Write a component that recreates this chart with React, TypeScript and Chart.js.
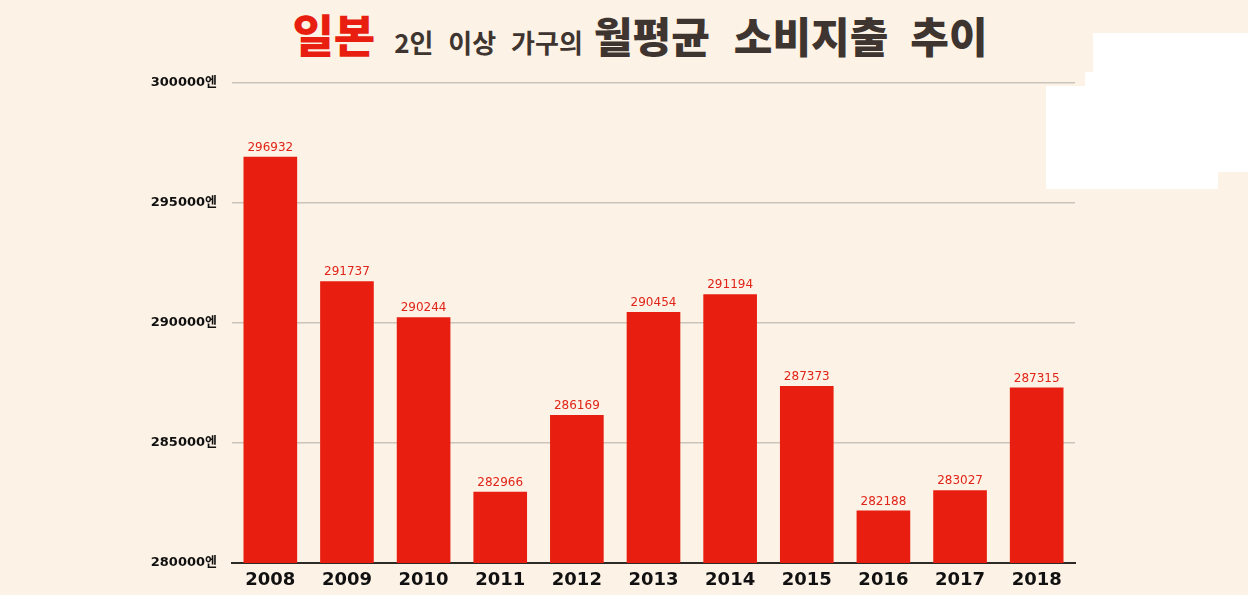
import { useEffect, useRef } from 'react'
import { Chart, registerables } from 'chart.js'

Chart.register(...registerables)

const years = ['2008', '2009', '2010', '2011', '2012', '2013', '2014', '2015', '2016', '2017', '2018']
const spending = [296932, 291737, 290244, 282966, 286169, 290454, 291194, 287373, 282188, 283027, 287315]
const yMin = 280000
const yMax = 300000
const yStep = 5000
const yUnit = '엔'

const BG = '#fdf2e6'
const RED = '#e81f10'
const DARK = '#3f3530'
const NUM_FONT = '"DejaVu Sans", "Noto Sans CJK KR", sans-serif'
const KR_FONT = '"Noto Sans CJK KR", sans-serif'

// value labels above each bar
const valueLabels = {
  id: 'valueLabels',
  afterDatasetsDraw(chart: Chart) {
    const { ctx } = chart
    const meta = chart.getDatasetMeta(0)
    ctx.save()
    ctx.fillStyle = '#e02418'
    ctx.font = `12px ${NUM_FONT}`
    ctx.textAlign = 'center'
    ctx.textBaseline = 'bottom'
    meta.data.forEach((bar: any, i: number) => {
      ctx.fillText(String(spending[i]), bar.x, bar.y - 3)
    })
    ctx.restore()
  },
}

const whiteBoxes = [
  { left: 1093, top: 33, width: 155, height: 40 },
  { left: 1085, top: 72, width: 163, height: 15 },
  { left: 1046, top: 86, width: 172, height: 103 },
  { left: 1218, top: 86, width: 30, height: 86 },
]

export default function App() {
  const canvasRef = useRef<HTMLCanvasElement>(null)
  const chartRef = useRef<Chart | null>(null)

  useEffect(() => {
    if (!canvasRef.current) return
    if (chartRef.current) chartRef.current.destroy()

    chartRef.current = new Chart(canvasRef.current, {
      type: 'bar',
      data: {
        labels: years,
        datasets: [{
          data: spending,
          backgroundColor: RED,
          categoryPercentage: 1,
          barPercentage: 0.7,
        }],
      },
      options: {
        animation: false,
        responsive: false,
        devicePixelRatio: 1,
        layout: { padding: { top: 83, right: 173, left: 0, bottom: 0 } },
        plugins: {
          legend: { display: false },
          tooltip: { enabled: false },
        },
        scales: {
          x: {
            grid: { display: false, drawTicks: false },
            border: { color: '#2e2a28', width: 2 },
            ticks: {
              color: '#111',
              font: { family: NUM_FONT, size: 18, weight: 'bold' },
              padding: 7,
            },
            afterFit: (scale: any) => { scale.height = 32 },
          },
          y: {
            min: yMin,
            max: yMax,
            grid: { color: '#c9c5bd', lineWidth: 1.5, drawTicks: false },
            border: { display: false },
            ticks: {
              stepSize: yStep,
              color: '#111',
              font: { family: NUM_FONT, size: 13, weight: 'bold' },
              padding: 15,
              callback: (v: any) => `${v}${yUnit}`,
            },
            afterFit: (scale: any) => { scale.width = 232 },
          },
        },
      },
      plugins: [valueLabels],
    })

    return () => {
      if (chartRef.current) {
        chartRef.current.destroy()
        chartRef.current = null
      }
    }
  }, [])

  return (
    <div style={{ position: 'fixed', left: 0, top: 0, width: 1248, height: 595, background: BG, overflow: 'hidden' }}>
      <div style={{ position: 'absolute', left: 0, top: 4, width: 1280, textAlign: 'center', fontFamily: KR_FONT, color: DARK, whiteSpace: 'nowrap', lineHeight: '60px' }}>
        <span style={{ color: RED, fontSize: 45, fontWeight: 900, marginRight: 19 }}>일본</span>
        <span style={{ fontSize: 26, fontWeight: 700, wordSpacing: 9, marginRight: 11 }}>2인 이상 가구의</span>
        <span style={{ fontSize: 42, fontWeight: 900, marginRight: 24 }}>월평균</span>
        <span style={{ fontSize: 42, fontWeight: 900, marginRight: 22 }}>소비지출</span>
        <span style={{ fontSize: 42, fontWeight: 900 }}>추이</span>
      </div>
      <canvas ref={canvasRef} width={1248} height={595} style={{ position: 'absolute', left: 0, top: 0 }} />
      {whiteBoxes.map((b, i) => (
        <div key={i} style={{ position: 'absolute', background: '#fff', ...b }} />
      ))}
    </div>
  )
}
